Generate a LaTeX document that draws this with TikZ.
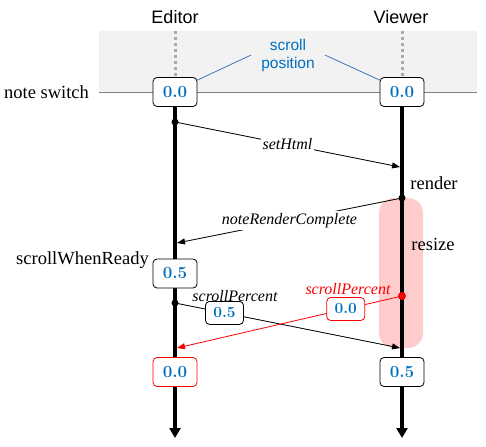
\documentclass[tikz,border=0pt]{standalone}
\usepackage{fontspec}
\setmainfont{Liberation Serif}
\setsansfont{Liberation Sans}
\newfontfamily\numfont{Latin Modern Roman}
\usetikzlibrary{arrows.meta,calc}
\definecolor{valblue}{RGB}{0,112,192}
\definecolor{linkblue}{RGB}{68,114,196}
\definecolor{bandgray}{RGB}{242,242,242}
\definecolor{pinkbar}{RGB}{255,204,204}
\definecolor{hotred}{RGB}{255,0,0}
\definecolor{dotgray}{RGB}{170,170,170}
\pgfdeclarelayer{bg}
\pgfsetlayers{bg,main}
\begin{document}
\begin{tikzpicture}[x=1pt,y=-1pt,
  valbox/.style={draw, rounded corners=4pt, minimum width=44pt, minimum height=29pt,
    fill=white, text=valblue, line width=0.8pt, inner sep=0pt,
    font=\numfont\bfseries\fontsize{17}{17}\selectfont},
  smallbox/.style={valbox, minimum width=38pt, minimum height=23pt,
    font=\numfont\bfseries\fontsize{15.5}{15.5}\selectfont},
  msg/.style={line width=0.8pt, -{Triangle[width=6pt,length=8pt]}},
  msglabel/.style={font=\itshape\fontsize{16}{16}\selectfont, inner sep=2pt},
  lifeline/.style={line width=4pt, -{Triangle[width=11pt,length=10pt]}},
  header/.style={font=\sffamily\fontsize{18}{18}\selectfont},
  stepname/.style={font=\fontsize{18.5}{18.5}\selectfont, inner sep=0pt},
  dotmark/.style={circle, fill, inner sep=0pt, minimum size=7pt}
]
\useasboundingbox (0,0) rectangle (486,446);

% headers
\node[header] (ed) at (175,17) {Editor};
\node[header] (vw) at (401,17) {Viewer};

% value boxes
\node[valbox] (e0) at (175,92) {0.0};
\node[valbox] (v0) at (402,92) {0.0};
\node[valbox] (e1) at (175,273.5) {0.5};
\node[valbox, draw=hotred] (e2) at (175,372) {0.0};
\node[valbox] (v1) at (402,372) {0.5};

% scroll position label
\node[font=\sffamily\fontsize{15.5}{18}\selectfont, text=valblue, align=center,
  inner xsep=10pt] (sp) at (288,55) {scroll\\position};
\draw[linkblue, line width=0.8pt] (sp.west) -- ($(e0.north east)+(0,3)$);
\draw[linkblue, line width=0.8pt] (sp.east) -- ($(v0.north west)+(0,3)$);

% step labels
\node[stepname] (ns) at (46.5,92) {note switch};
\node[stepname] (rd) at (434,183) {render};
\node[stepname] (rs) at (433,244) {resize};
\node[stepname] (swr) at (82.5,260) {scrollWhenReady};

% end points
\coordinate (eEnd) at (175,438);
\coordinate (vEnd) at (402,438);
\coordinate (eTop) at (175,31);
\coordinate (vTop) at (402,31);

% background
\begin{pgfonlayer}{bg}
  \fill[bandgray] (99,31) rectangle (477,92);
  \draw[gray, line width=0.8pt] (99,92) -- (477,92);
  \draw[dotgray, line width=3pt, dash pattern=on 3pt off 3pt] (eTop) -- (e0.north);
  \draw[dotgray, line width=3pt, dash pattern=on 3pt off 3pt] (vTop) -- (v0.north);
  \fill[pinkbar, rounded corners=15pt] (379,198) rectangle (423,348);
  \draw[lifeline] (e0.south) -- (eEnd);
  \draw[lifeline] (v0.south) -- (vEnd);
\end{pgfonlayer}

% messages
\node[dotmark] (d1) at (175,122) {};
\coordinate (t1) at (400,167);
\draw[msg] (d1.center) -- node[msglabel, fill=white] (l1) {setHtml} (t1);

\node[dotmark] (d2) at (402,198) {};
\coordinate (t2) at (177,243);
\draw[msg] (d2.center) -- node[msglabel, fill=white] (l2) {noteRenderComplete} (t2);

\node[dotmark] (d3) at (175,303) {};
\coordinate (t3) at (400,348);
\draw[msg] (d3.center) -- node[smallbox, pos=0.22] (b3) {0.5} (t3);
\node[msglabel] (l3) at (235,296) {scrollPercent};

\node[dotmark, hotred, minimum size=8pt] (d4) at (402,296) {};
\coordinate (t4) at (177,348);
\draw[msg, hotred] (d4.center) -- node[smallbox, draw=hotred, pos=0.25] (b4) {0.0} (t4);
\node[msglabel, text=hotred] (l4) at (348,289) {scrollPercent};
\end{tikzpicture}
\end{document}
